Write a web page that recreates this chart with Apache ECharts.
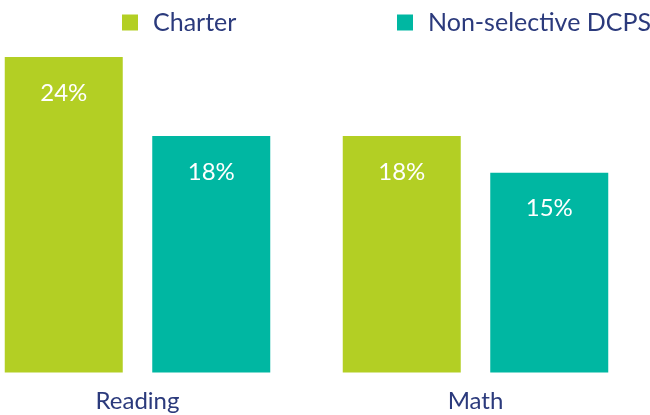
<!DOCTYPE html>
<html>
<head>
<meta charset="utf-8">
<script src="https://cdn.jsdelivr.net/npm/echarts@6/dist/echarts.min.js"></script>
<style>
  html, body { margin: 0; padding: 0; background: #fff; }
  #chart { width: 650px; height: 415px; }
</style>
</head>
<body>
<div id="chart"></div>
<script>
const categories = ["Reading", "Math"];
const charterValues = [24, 18];
const dcpsValues = [18, 15.2];

const textColor = "#2b3a7c";
const fontFamily = "Lato, 'Open Sans', sans-serif";

const chart = echarts.init(document.getElementById("chart"));

const barLabel = {
  show: true,
  position: "insideTop",
  distance: 24,
  color: "#ffffff",
  fontSize: 24,
  fontFamily: fontFamily,
  formatter: (p) => Math.round(p.value) + "%",
};

const legendText = {
  color: textColor,
  fontSize: 25,
  fontFamily: fontFamily,
  padding: [0, 0, 0, 10],
};

const option = {
  animation: false,
  legend: [
    {
      data: ["Charter"],
      left: 117,
      top: 5,
      itemWidth: 16,
      itemHeight: 16,
      icon: "rect",
      textStyle: legendText,
    },
    {
      data: ["Non-selective DCPS"],
      left: 392,
      top: 5,
      itemWidth: 16,
      itemHeight: 16,
      icon: "rect",
      textStyle: legendText,
    },
  ],
  grid: {
    left: -31.5,
    right: 5.5,
    top: 57,
    bottom: 42.5,
    outerBoundsMode: "none",
  },
  xAxis: {
    type: "category",
    data: categories,
    axisLine: { show: false },
    axisTick: { show: false },
    axisLabel: {
      color: textColor,
      fontSize: 24,
      fontFamily: fontFamily,
      margin: 17,
    },
  },
  yAxis: {
    type: "value",
    min: 0,
    max: 24,
    show: false,
    splitLine: { show: false },
  },
  series: [
    {
      name: "Charter",
      type: "bar",
      barWidth: 118,
      barGap: "25%",
      itemStyle: { color: "#b3cf24" },
      label: barLabel,
      data: charterValues,
    },
    {
      name: "Non-selective DCPS",
      type: "bar",
      barWidth: 118,
      itemStyle: { color: "#00b7a2" },
      label: barLabel,
      data: dcpsValues,
    },
  ],
};

chart.setOption(option);
</script>
</body>
</html>
